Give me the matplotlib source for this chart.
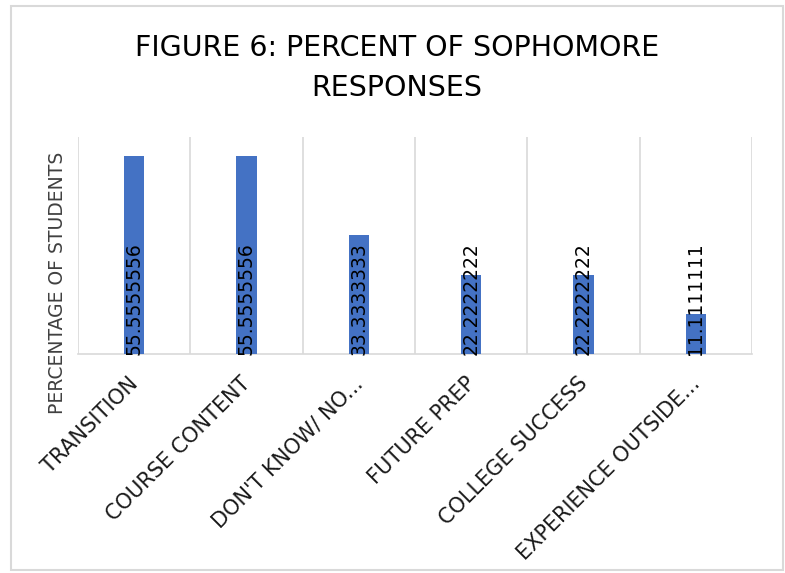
import matplotlib
matplotlib.use("Agg")
import matplotlib.pyplot as plt
from matplotlib.patches import Rectangle
from matplotlib.transforms import ScaledTranslation

categories = ["TRANSITION", "COURSE CONTENT", "DON'T KNOW/ NO...", "FUTURE PREP",
              "COLLEGE SUCCESS", "EXPERIENCE OUTSIDE..."]
values = [55.5555556, 55.5555556, 33.3333333, 22.2222222, 22.2222222, 11.1111111]
value_labels = ["55.5555556", "55.5555556", "33.3333333", "22.2222222", "22.2222222", "11.1111111"]

W, H = 785, 573
fig = plt.figure(figsize=(W / 100, H / 100), dpi=100)
plt.rcParams['font.family'] = ['DejaVu Sans']

# outer border
fig.patches.append(Rectangle((11 / W, 1 - 570 / H), (783 - 11) / W, (570 - 6) / H,
                             transform=fig.transFigure, fill=False,
                             edgecolor="#d9d9d9", linewidth=1.5))

left, right, top, bottom = 78, 752, 137, 354
ax = fig.add_axes([left / W, 1 - bottom / H, (right - left) / W, (bottom - top) / H])

x = list(range(len(categories)))
ax.bar(x, values, width=0.18, color="#4472C4", zorder=3)
ax.set_xlim(-0.5, len(categories) - 0.5)
ax.set_ylim(0, 61)

# category separators
for i in range(len(categories) + 1):
    ax.axvline(i - 0.5, color="#d9d9d9", linewidth=1.2, zorder=1)

for xi, lab in zip(x, value_labels):
    ax.text(xi, 15.5, lab, rotation=90, ha="center", va="center",
            fontsize=13.5, color="#000000", zorder=4)

for s in ["top", "right", "left"]:
    ax.spines[s].set_visible(False)
ax.spines["bottom"].set_color("#d9d9d9")
ax.spines["bottom"].set_linewidth(1.2)
ax.set_yticks([])
ax.set_xticks(x)
ax.set_xticklabels(categories, rotation=45, ha="right", rotation_mode="anchor",
                   fontsize=15, color="#1a1a1a")
ax.tick_params(axis="x", length=0, pad=14)
off = ScaledTranslation(-6 / 100, 0, fig.dpi_scale_trans)
for t in ax.get_xticklabels():
    t.set_transform(t.get_transform() + off)

fig.text(58 / W, 1 - 283 / H, "PERCENTAGE OF STUDENTS", rotation=90,
         ha="center", va="center", fontsize=13.5, color="#404040")

fig.text(397 / W, 1 - 48 / H, "FIGURE 6: PERCENT OF SOPHOMORE", ha="center",
         va="center", fontsize=20.5, color="#000000")
fig.text(397 / W, 1 - 88 / H, "RESPONSES", ha="center",
         va="center", fontsize=20.5, color="#000000")

fig.savefig("out.png", dpi=100)
